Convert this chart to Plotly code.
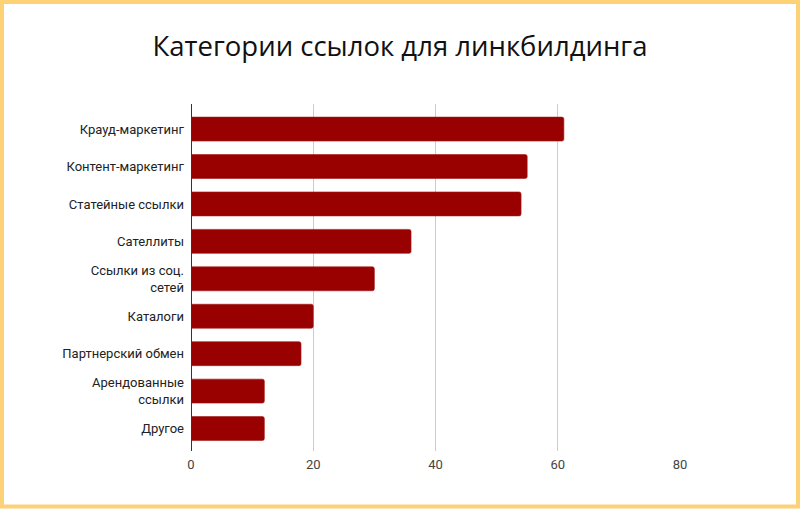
import plotly.graph_objects as go

# link categories, top to bottom
categories = [
    "Крауд-маркетинг",
    "Контент-маркетинг",
    "Статейные ссылки",
    "Сателлиты",
    "Ссылки из соц.<br>сетей",
    "Каталоги",
    "Партнерский обмен",
    "Арендованные<br>ссылки",
    "Другое",
]
values = [61, 55, 54, 36, 30, 20, 18, 12, 12]
x_ticks = [0, 20, 40, 60, 80]

W, H = 800, 509
ML, MR, MT, MB = 191, 120, 104, 58
pw = W - ML - MR
ph = H - MT - MB


def px_x(p):
    return (p - ML) / pw


def px_y(p):
    return (H - MB - p) / ph


fig = go.Figure()

fig.add_trace(
    go.Bar(
        x=values,
        y=categories,
        orientation="h",
        marker=dict(color="#990000", line=dict(color="#a31a1a", width=0.6), cornerradius=2),
        hoverinfo="x+y",
    )
)

fig.update_layout(
    width=W,
    height=H,
    margin=dict(l=ML, r=MR, t=MT, b=MB),
    paper_bgcolor="white",
    plot_bgcolor="white",
    showlegend=False,
    bargap=0.36,
    title=dict(
        text="Категории ссылок для линкбилдинга",
        x=0.5,
        xref="container",
        y=1 - 46 / H,
        yref="container",
        yanchor="middle",
        xanchor="center",
        font=dict(family="Open Sans", size=27.5, color="#111"),
    ),
    xaxis=dict(
        range=[0, 80],
        tickvals=x_ticks,
        showgrid=True,
        gridcolor="#cccccc",
        gridwidth=1,
        zeroline=True,
        zerolinecolor="#333333",
        zerolinewidth=1,
        showline=False,
        ticks="",
        ticklabelstandoff=4,
        tickfont=dict(family="Roboto", size=13, color="#444"),
        fixedrange=True,
    ),
    yaxis=dict(
        # a little padding above the first and below the last bar
        range=[8.6, -0.67],
        showgrid=False,
        zeroline=False,
        showline=False,
        ticks="",
        ticklabelstandoff=6,
        tickfont=dict(family="Roboto", size=13, color="#222"),
        fixedrange=True,
    ),
    shapes=[
        dict(
            type="rect",
            xref="paper",
            yref="paper",
            x0=px_x(2),
            x1=px_x(798),
            y0=px_y(506.5),
            y1=px_y(2),
            line=dict(color="#fdd276", width=4),
            fillcolor="rgba(0,0,0,0)",
            layer="above",
        )
    ],
)

# drop the default page margin so the figure sits at the window origin
fig.write_html(
    "out.html",
    config={"displayModeBar": False},
    post_script="document.body.style.margin='0';document.body.style.overflow='hidden';",
)
